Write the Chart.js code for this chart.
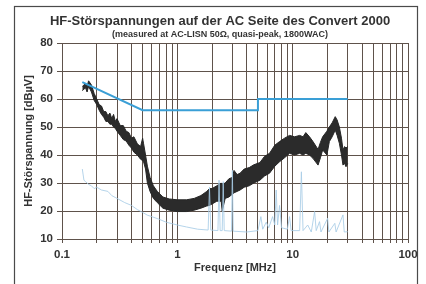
<!DOCTYPE html>
<html>
<head>
<meta charset="utf-8">
<script src="https://cdn.jsdelivr.net/npm/chart.js@4/dist/chart.umd.min.js"></script>
<style>
  body { margin: 0; background: #ffffff; }
  #canvas { display: block; }
</style>
</head>
<body>
<canvas id="canvas" width="426" height="284"></canvas>
<script>
// quasi-peak limit (blue)
var limitFreq  = [0.15, 0.5, 5, 5, 30];
var limitLevel = [66, 56, 56, 60, 60];

// measured quasi-peak trace, drawn as a band (black)
var peakFreq  = [0.15, 0.16, 0.165, 0.17, 0.18, 0.19, 0.2, 0.21, 0.22, 0.23, 0.24, 0.25, 0.26, 0.27, 0.28, 0.29, 0.3, 0.32, 0.34, 0.36, 0.38, 0.4, 0.42, 0.45, 0.48, 0.5, 0.51, 0.53, 0.55, 0.58, 0.62, 0.67, 0.75, 0.85, 1.0, 1.2, 1.4, 1.6, 1.8, 1.9, 2.0, 2.2, 2.4, 2.45, 2.6, 2.8, 3.0, 3.1, 3.3, 3.5, 3.8, 4.2, 4.6, 5.2, 5.7, 6.3, 7.0, 7.7, 8.5, 9.4, 10.4, 11.5, 12.3, 13, 14, 15, 16.6, 17.4, 18.2, 19.8, 20.8, 22, 23.4, 24.3, 25.4, 26.5, 27.3, 28.2, 29, 30];
var peakUpper = [64.5, 65.5, 64.5, 66.5, 65, 62, 60, 58, 57.5, 55.5, 55.5, 54, 55, 53, 54.5, 52, 53, 50.5, 50.5, 48.5, 48, 46, 46.5, 44, 43, 46, 44, 40, 36, 32, 29, 27, 25, 24.3, 24, 24, 24.5, 25.5, 27, 28, 28, 29, 30, 29.5, 30, 31.5, 32, 34.5, 33, 33.5, 35, 35.5, 36.5, 37.3, 39.5, 40.6, 43.5, 44.8, 46, 47, 46.5, 47, 46.5, 48, 46.5, 44.8, 42, 44.5, 46.5, 48.5, 50, 51.5, 53.7, 52.5, 50, 46, 41.8, 43, 42.5, 43];
var peakLower = [63, 64, 62.5, 64.5, 62.5, 59.5, 58, 56, 54.5, 53.5, 52, 52, 51, 51, 50, 49.5, 48.5, 47, 45.5, 45, 43.5, 42.5, 41, 40, 38.5, 38, 37.5, 35, 30, 27, 24.5, 23, 21, 20.3, 19.8, 19.8, 20.3, 21, 21.8, 22, 22.5, 23.5, 23.5, 20, 24.5, 25, 26, 26.5, 27, 27.5, 28.5, 29, 30, 31, 32.5, 33.5, 36, 37.6, 39, 40.6, 40, 40.6, 40, 40.6, 40, 38.8, 36.4, 39, 41.8, 40, 44.8, 46.5, 48.9, 47, 44.2, 40, 36.4, 37, 35.8, 37];

// average trace (light blue)
var avgFreq  = [0.15, 0.155, 0.16, 0.17, 0.18, 0.19, 0.2, 0.22, 0.25, 0.27, 0.3, 0.35, 0.4, 0.45, 0.5, 0.55, 0.6, 0.7, 0.8, 1.0, 1.2, 1.5, 1.85, 1.9, 1.95, 2.25, 2.3, 2.35, 2.45, 2.5, 2.55, 2.95, 3.0, 3.05, 4.0, 5.0, 5.3, 5.5, 5.9, 6.2, 6.7, 7.0, 7.2, 7.4, 7.7, 8.0, 9.0, 9.4, 9.7, 11.5, 11.9, 12.3, 13.5, 14.5, 15.5, 16, 17.1, 17.6, 20.1, 20.6, 23.2, 23.8, 27.3, 28, 30];
var avgLevel = [35, 31, 30.5, 29.5, 29, 28, 28.5, 27.5, 27, 25.5, 24.5, 23, 22, 20.5, 19.5, 18.5, 18, 17, 16, 15, 14.3, 13.5, 13.2, 28.5, 13.2, 13, 31, 13, 13, 30.5, 13, 12.8, 34.5, 12.8, 12.5, 13, 18, 13.5, 16, 14, 18, 15, 27.5, 15, 22, 14, 13.5, 18, 13, 13, 34, 13, 15, 12.5, 19.8, 13, 16.2, 12.5, 17.4, 12.5, 15.6, 12.5, 18.6, 12.5, 12.6];

// axes
var xGridValues = [0.1, 0.2, 0.3, 0.4, 0.5, 0.6, 0.7, 0.8, 0.9, 1, 2, 3, 4, 5, 6, 7, 8, 9, 10, 20, 30, 40, 50, 60, 70, 80, 90, 100];
var xTickLabels = [0.1, 1, 10, 100];

var gridColor = '#5e524b';
var textColor = '#333333';
var fontFamily = '"Liberation Sans", Arial, sans-serif';

function toPoints(xs, ys) {
    var pts = [];
    for (var i = 0; i < xs.length; i++) {
        pts.push({x: xs[i], y: ys[i]});
    }
    return pts;
}

var framePlugin = {
    id: 'frame',
    beforeDraw: function(chart) {
        var c = chart.ctx;
        c.save();
        c.fillStyle = '#ffffff';
        c.fillRect(0, 0, chart.width, chart.height);
        c.strokeStyle = '#4a4a4a';
        c.lineWidth = 1.2;
        c.strokeRect(14.5, 6.5, 403, 300);
        c.restore();
    }
};

function renderGraph() {
    var ctx = document.getElementById("canvas").getContext("2d");

    var chartData = {
        datasets: [{
            label: 'Average',
            data: toPoints(avgFreq, avgLevel),
            borderColor: 'rgba(168, 205, 230, 0.85)',
            borderWidth: 1,
            pointRadius: 0,
            fill: false,
            order: 0
        }, {
            label: 'Limit QP',
            data: toPoints(limitFreq, limitLevel),
            borderColor: '#3a9fd6',
            borderWidth: 2,
            pointRadius: 0,
            fill: false,
            order: 1
        }, {
            label: 'QP lower',
            data: toPoints(peakFreq, peakLower),
            borderColor: '#262626',
            borderWidth: 1,
            pointRadius: 0,
            fill: false,
            order: 2
        }, {
            label: 'QP upper',
            data: toPoints(peakFreq, peakUpper),
            borderColor: '#262626',
            backgroundColor: '#2b2b2b',
            borderWidth: 1,
            pointRadius: 0,
            fill: '-1',
            order: 3
        }]
    };

    var chartOptions = {
        responsive: false,
        animation: false,
        devicePixelRatio: 1,
        layout: {
            autoPadding: false,
            padding: {left: 32, right: 18, top: 0, bottom: 0}
        },
        plugins: {
            legend: { display: false },
            tooltip: { enabled: false },
            title: {
                display: true,
                text: 'HF-Störspannungen auf der AC Seite des Convert 2000',
                color: textColor,
                font: {family: fontFamily, size: 13, weight: 'bold'},
                padding: {top: 13.7, bottom: 0}
            },
            subtitle: {
                display: true,
                text: '(measured at AC-LISN 50Ω, quasi-peak, 1800WAC)',
                color: textColor,
                font: {family: fontFamily, size: 9, weight: 'bold'},
                padding: {top: 0, bottom: 2.9}
            }
        },
        scales: {
            x: {
                type: 'logarithmic',
                min: 0.1,
                max: 100,
                afterBuildTicks: function(scale) {
                    scale.ticks = xGridValues.map(function(v) { return {value: v}; });
                },
                afterFit: function(scale) { scale.height = 45; },
                grid: {
                    color: gridColor,
                    lineWidth: 1,
                    tickLength: 4,
                    tickColor: gridColor
                },
                border: { color: gridColor, width: 1 },
                ticks: {
                    autoSkip: false,
                    maxRotation: 0,
                    padding: 5,
                    color: textColor,
                    font: {family: fontFamily, size: 11.5, weight: 'bold'},
                    callback: function(value) {
                        return xTickLabels.indexOf(value) >= 0 ? String(value) : '';
                    }
                },
                title: {
                    display: true,
                    text: 'Frequenz [MHz]',
                    color: textColor,
                    font: {family: fontFamily, size: 11, weight: 'bold'},
                    padding: {top: 0, bottom: 9.4}
                }
            },
            y: {
                type: 'linear',
                min: 10,
                max: 80,
                afterFit: function(scale) { scale.width = 30; },
                grid: {
                    color: function(c) { return c.tick && c.tick.value % 10 === 0 ? gridColor : 'rgba(0,0,0,0)'; },
                    lineWidth: 1,
                    tickLength: 5,
                    tickColor: gridColor
                },
                border: { color: gridColor, width: 1 },
                ticks: {
                    stepSize: 5,
                    padding: 4,
                    color: textColor,
                    font: {family: fontFamily, size: 11.5, weight: 'bold'},
                    callback: function(value) {
                        return value % 10 === 0 ? String(value) : '';
                    }
                },
                title: {
                    display: true,
                    text: 'HF-Störspannung [dBµV]',
                    color: textColor,
                    font: {family: fontFamily, size: 11, weight: 'bold'},
                    padding: {top: -9.6, bottom: 0}
                }
            }
        }
    };

    var myChart = new Chart(ctx, {
        type: 'line',
        data: chartData,
        options: chartOptions,
        plugins: [framePlugin]
    });
}

renderGraph();
</script>
</body>
</html>
